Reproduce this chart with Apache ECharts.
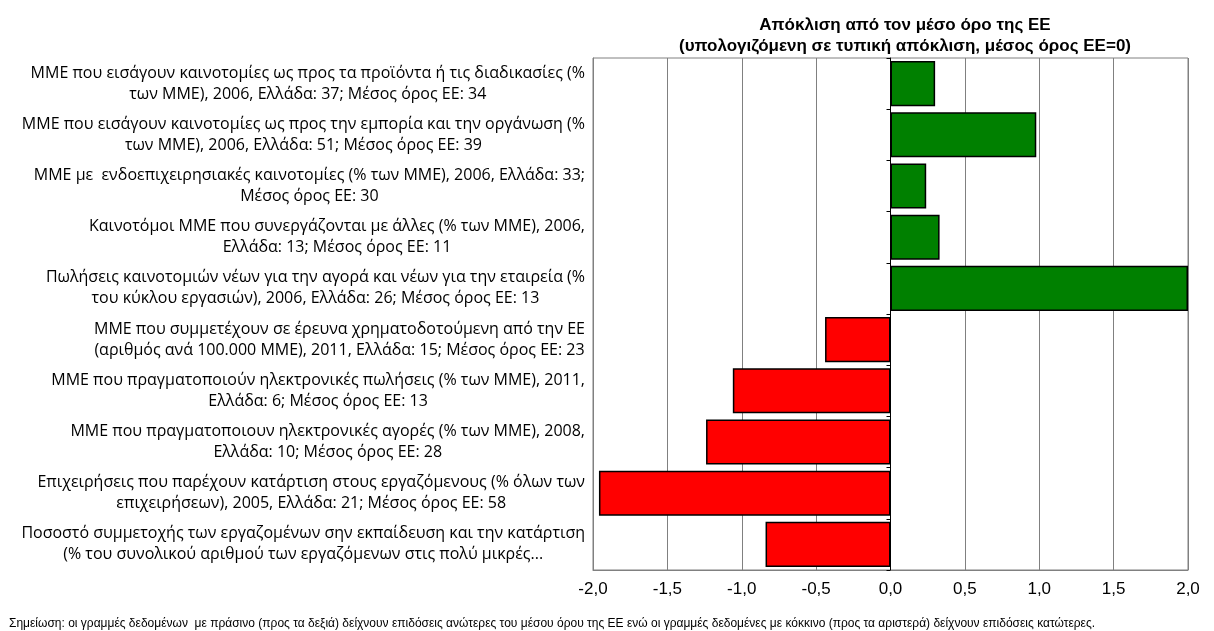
<!DOCTYPE html>
<html>
<head>
<meta charset="utf-8">
<script src="https://cdn.jsdelivr.net/npm/echarts@6/dist/echarts.min.js"></script>
<style>
html,body{margin:0;padding:0;background:#fff;}
#c{width:1214px;height:631px;}
</style>
</head>
<body>
<div id="c"></div>
<script>
var categories = [
  "ΜΜΕ που εισάγουν καινοτομίες ως προς τα προϊόντα ή τις διαδικασίες (%\nτων ΜΜΕ), 2006, Ελλάδα: 37; Μέσος όρος ΕΕ: 34",
  "ΜΜΕ που εισάγουν καινοτομίες ως προς την εμπορία και την οργάνωση (%\nτων ΜΜΕ), 2006, Ελλάδα: 51; Μέσος όρος ΕΕ: 39",
  "ΜΜΕ με  ενδοεπιχειρησιακές καινοτομίες (% των ΜΜΕ), 2006, Ελλάδα: 33;\nΜέσος όρος ΕΕ: 30",
  "Καινοτόμοι ΜΜΕ που συνεργάζονται με άλλες (% των ΜΜΕ), 2006,\nΕλλάδα: 13; Μέσος όρος ΕΕ: 11",
  "Πωλήσεις καινοτομιών νέων για την αγορά και νέων για την εταιρεία (%\nτου κύκλου εργασιών), 2006, Ελλάδα: 26; Μέσος όρος ΕΕ: 13",
  "ΜΜΕ που συμμετέχουν σε έρευνα χρηματοδοτούμενη από την ΕΕ\n(αριθμός ανά 100.000 ΜΜΕ), 2011, Ελλάδα: 15; Μέσος όρος ΕΕ: 23",
  "ΜΜΕ που πραγματοποιούν ηλεκτρονικές πωλήσεις (% των ΜΜΕ), 2011,\nΕλλάδα: 6; Μέσος όρος ΕΕ: 13",
  "ΜΜΕ που πραγματοποιουν ηλεκτρονικές αγορές (% των ΜΜΕ), 2008,\nΕλλάδα: 10; Μέσος όρος ΕΕ: 28",
  "Επιχειρήσεις που παρέχουν κατάρτιση στους εργαζόμενους (% όλων των\nεπιχειρήσεων), 2005, Ελλάδα: 21; Μέσος όρος ΕΕ: 58",
  "Ποσοστό συμμετοχής των εργαζομένων σην εκπαίδευση και την κατάρτιση\n(% του συνολικού αριθμού των εργαζόμενων στις πολύ μικρές..."
];
var deviations = [0.30, 0.98, 0.24, 0.33, 2.0, -0.44, -1.06, -1.24, -1.96, -0.84];
var xTicks = { min: -2, max: 2, interval: 0.5 };
var titleLines = ["Απόκλιση από τον μέσο όρο της ΕΕ", "(υπολογιζόμενη σε τυπική απόκλιση, μέσος όρος ΕΕ=0)"];
var footnote = "Σημείωση: οι γραμμές δεδομένων  με πράσινο (προς τα δεξιά) δείχνουν επιδόσεις ανώτερες του μέσου όρου της ΕΕ ενώ οι γραμμές δεδομένες με κόκκινο (προς τα αριστερά) δείχνουν επιδόσεις κατώτερες.";

var chart = echarts.init(document.getElementById('c'));
var labelFont = "'Open Sans', 'Noto Sans', sans-serif";
chart.setOption({
  animation: false,
  backgroundColor: '#fff',
  title: [{
    text: titleLines.join('\n'),
    left: 900, top: 10, textAlign: 'center',
    textStyle: { fontFamily: "'Liberation Sans Narrow','Liberation Sans',sans-serif", fontWeight: 'bold', fontSize: 17, lineHeight: 21, color: '#000' }
  }, {
    text: footnote,
    left: 4, top: 613,
    textStyle: { fontFamily: "'Liberation Sans Narrow','Liberation Sans',sans-serif", fontWeight: 'normal', fontSize: 12, color: '#000' }
  }],
  grid: { left: 593, right: 26, top: 58, bottom: 61, show: true, borderColor: '#808080', borderWidth: 1, containLabel: false },
  xAxis: {
    type: 'value', min: xTicks.min, max: xTicks.max, interval: xTicks.interval,
    axisLine: { show: true, lineStyle: { color: '#808080' } },
    axisTick: { show: false },
    splitLine: { show: true, lineStyle: { color: '#808080', width: 1 } },
    axisLabel: {
      margin: 11, fontSize: 17, color: '#000', fontFamily: "'Liberation Sans',sans-serif",
      formatter: function (v) { return v.toFixed(1).replace('.', ','); }
    }
  },
  yAxis: [{
    type: 'category', inverse: true, data: categories,
    axisLine: { show: true, onZero: false, lineStyle: { color: '#808080' } },
    axisTick: { show: false },
    axisLabel: {
      margin: 8, align: 'right', color: '#000', fontFamily: labelFont, fontSize: 16, lineHeight: 21,
      formatter: function (v) { return v.split('\n').map(function (s) { return '{c|' + s + '}'; }).join('\n'); },
      rich: { c: { align: 'center', fontFamily: labelFont, fontSize: 16, lineHeight: 21, color: '#000' } }
    }
  }, {
    type: 'category', inverse: true, data: categories, position: 'left',
    axisLine: { show: true, onZero: true, lineStyle: { color: '#000', width: 1 } },
    axisTick: { show: true, length: 4, inside: false, lineStyle: { color: '#000' } },
    axisLabel: { show: false }
  }],
  series: [{
    type: 'bar', yAxisIndex: 0, barCategoryGap: '12%',
    data: deviations.map(function (v) {
      return { value: v, itemStyle: { color: v >= 0 ? '#008000' : '#FF0000' } };
    }),
    itemStyle: { borderColor: '#000', borderWidth: 1.5 }
  }]
});
</script>
</body>
</html>
